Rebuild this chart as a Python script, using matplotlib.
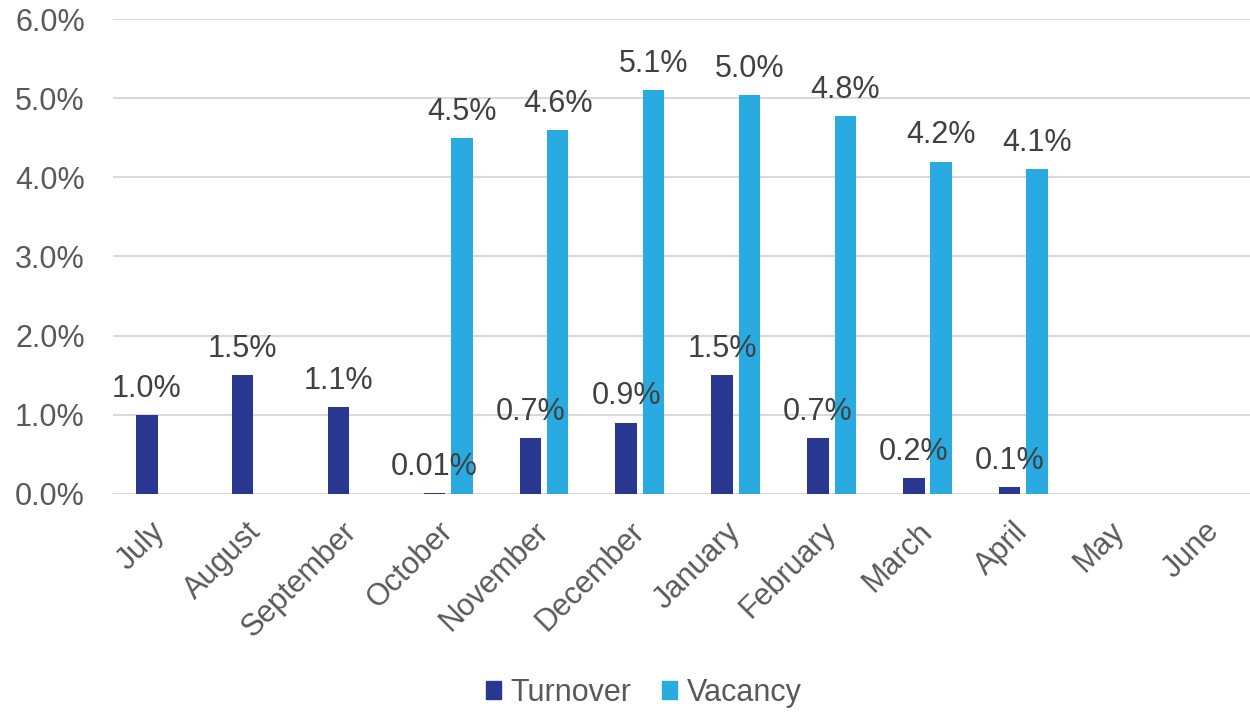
import numpy as np
import matplotlib.pyplot as plt
from matplotlib.patches import Patch

plt.rcParams['font.family'] = ['Liberation Sans', 'DejaVu Sans']

months = ["July", "August", "September", "October", "November", "December",
          "January", "February", "March", "April", "May", "June"]
turnover = [1.0, 1.5, 1.1, 0.01, 0.7, 0.9, 1.5, 0.7, 0.2, 0.08, np.nan, np.nan]
vacancy = [np.nan, np.nan, np.nan, 4.5, 4.6, 5.1, 5.04, 4.78, 4.2, 4.1, np.nan, np.nan]
turnover_labels = ["1.0%", "1.5%", "1.1%", "0.01%", "0.7%", "0.9%", "1.5%", "0.7%", "0.2%", "0.1%", "", ""]
vacancy_labels = ["", "", "", "4.5%", "4.6%", "5.1%", "5.0%", "4.8%", "4.2%", "4.1%", "", ""]

c_turn = '#283891'
c_vac = '#29ABE2'
grey = '#595959'
dark = '#404040'

fig = plt.figure(figsize=(12.5, 7.12), dpi=100)
ax = fig.add_axes([0.0901, 0.3066, 0.9203, 0.6664])

x = np.arange(len(months))
w = 0.224
off = 0.143
ax.bar(x - off, turnover, w, color=c_turn, zorder=3)
ax.bar(x + off, vacancy, w, color=c_vac, zorder=3)

for i in range(len(months)):
    if turnover_labels[i]:
        ax.annotate(turnover_labels[i], (x[i] - off, turnover[i]), xytext=(0, 8),
                    textcoords='offset points', ha='center', va='bottom',
                    fontsize=22, color=dark, zorder=4)
    if vacancy_labels[i]:
        ax.annotate(vacancy_labels[i], (x[i] + off, vacancy[i]), xytext=(0, 8),
                    textcoords='offset points', ha='center', va='bottom',
                    fontsize=22, color=dark, zorder=4)

ax.set_xlim(-0.5, len(months) - 0.5)
ax.set_ylim(0, 6)
ax.set_yticks(np.arange(0, 7, 1))
ax.set_yticklabels([f"{v:.1f}%" for v in range(7)], fontsize=22, color=grey)
ax.set_xticks(x)
ax.set_xticklabels(months, fontsize=22, color=grey, rotation=45,
                   ha='right', va='center', rotation_mode='anchor')
ax.tick_params(axis='both', length=0)
ax.tick_params(axis='x', pad=24)
ax.tick_params(axis='y', pad=20)
ax.grid(axis='y', color='#D9D9D9', linewidth=1.5, zorder=0)
for s in ax.spines.values():
    s.set_visible(False)

handles = [Patch(color=c_turn, label='Turnover'), Patch(color=c_vac, label='Vacancy')]
leg = fig.legend(handles=handles, loc='center', bbox_to_anchor=(0.515, 0.027), ncol=2,
                 frameon=False, fontsize=22, handlelength=0.5, handleheight=0.5,
                 handletextpad=0.3, columnspacing=1.0)
for t in leg.get_texts():
    t.set_color(grey)

fig.savefig('out.png', dpi=100)
